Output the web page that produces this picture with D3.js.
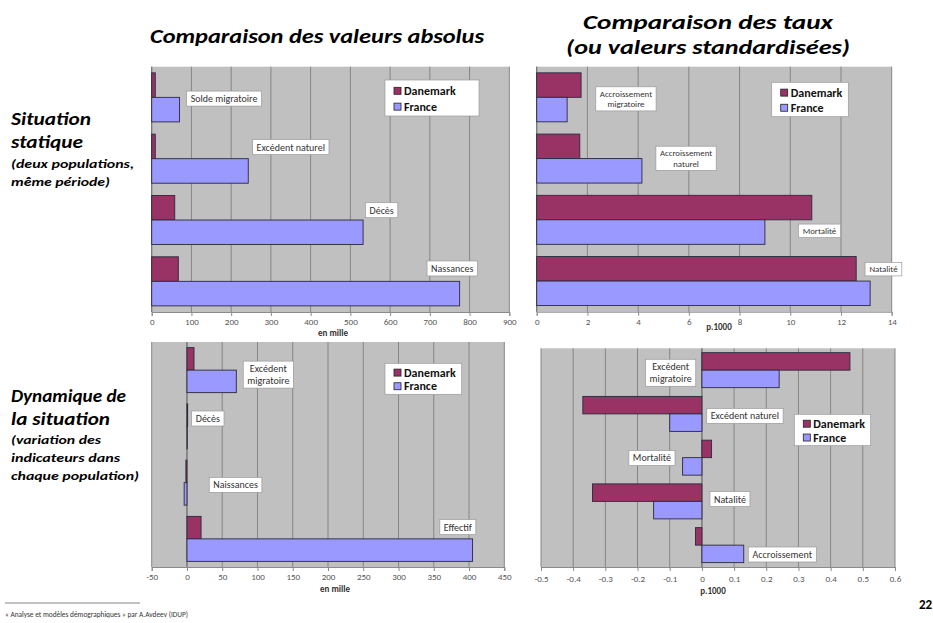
<!DOCTYPE html>
<html>
<head>
<meta charset="utf-8">
<script src="https://cdn.jsdelivr.net/npm/d3@7"></script>
<style>
  body { margin: 0; background: #fff; }
  svg { display: block; }
</style>
</head>
<body>
<svg id="chart"></svg>
<script>
const series = ["Danemark", "France"];
const seriesColors = ["#993366", "#9999FF"];

// Situation statique, valeurs absolues (en mille)
const absCats = ["Solde migratoire", "Excédent naturel", "Décès", "Nassances"];
const absDk = [9, 9, 58, 67];
const absFr = [70, 243, 532, 775];
const absTicks = [0, 100, 200, 300, 400, 500, 600, 700, 800, 900];

// Situation statique, taux (p.1000)
const tauxCats = [["Accroissement", "migratoire"], ["Accroissement", "naturel"], ["Mortalité"], ["Natalité"]];
const tauxDk = [1.75, 1.7, 10.85, 12.6];
const tauxFr = [1.2, 4.15, 9.0, 13.15];
const tauxTicks = [0, 2, 4, 6, 8, 10, 12, 14];

// Dynamique, valeurs absolues (en mille)
const dynAbsCats = [["Excédent", "migratoire"], ["Décès"], ["Naissances"], ["Effectif"]];
const dynAbsDk = [10, 1, -1.5, 20];
const dynAbsFr = [70, 0.5, -4, 405];
const dynAbsTicks = [-50, 0, 50, 100, 150, 200, 250, 300, 350, 400, 450];

// Dynamique, taux (p.1000)
const dynTauxCats = [["Excédent", "migratoire"], ["Excédent naturel"], ["Mortalité"], ["Natalité"], ["Accroissement"]];
const dynTauxDk = [0.46, -0.37, 0.03, -0.34, -0.02];
const dynTauxFr = [0.24, -0.10, -0.06, -0.15, 0.13];
const dynTauxTicks = [-0.5, -0.4, -0.3, -0.2, -0.1, 0, 0.1, 0.2, 0.3, 0.4, 0.5, 0.6];

// where the text boxes sit: [value at left edge, fraction of the band for the centre]
const absLabelAt = [[88, 0.52], [254, 0.31], [538, 0.34], [693, 0.29]];
const tauxLabelAt = [[2.33, 0.525], [4.7, 0.495], [10.32, 0.68], [12.95, 0.305]];
const dynAbsLabelAt = [[79.8, 0.58], [6.7, 0.36], [31.6, 0.54], [358.6, 0.29]];
const dynTauxLabelAt = [[-0.175, 0.56], [0.015, 0.545], [-0.227, 0.508], [0.025, 0.446], [0.144, 0.714]];

const W = 933, H = 623;
const FONT = "Carlito, 'Liberation Sans Narrow', 'Liberation Sans', Arial, sans-serif";

const svg = d3.select("#chart").attr("width", W).attr("height", H)
    .style("font-family", FONT);

function fmt(d) { return String(+d.toFixed(1)); }

function drawPanel(p) {
    const x = d3.scaleLinear().domain(p.domain).range([p.x0, p.x1]);
    const cats = p.cats.map(function (c, i) { return i; });
    const y = d3.scaleBand().domain(cats).range([p.y0, p.y1]);
    const ys = d3.scaleBand().domain(series).range([0, y.bandwidth()]).paddingOuter(0.25);

    const g = svg.append("g");

    g.append("rect")
        .attr("x", p.x0).attr("y", p.y0)
        .attr("width", p.x1 - p.x0).attr("height", p.y1 - p.y0)
        .attr("fill", "#C0C0C0");

    g.append("g").selectAll("line")
        .data(p.ticks)
        .enter().append("line")
        .attr("x1", function (d) { return x(d); })
        .attr("x2", function (d) { return x(d); })
        .attr("y1", p.y0).attr("y2", p.y1)
        .attr("stroke", "#858585")
        .attr("stroke-width", 1);

    // category axis at 0
    g.append("line")
        .attr("x1", x(0)).attr("x2", x(0))
        .attr("y1", p.y0).attr("y2", p.y1)
        .attr("stroke", "#707070");

    const rows = cats.map(function (i) {
        return [{ s: 0, v: p.dk[i], c: i }, { s: 1, v: p.fr[i], c: i }];
    }).flat();

    g.append("g").selectAll("rect")
        .data(rows)
        .enter().append("rect")
        .attr("x", function (d) { return x(Math.min(0, d.v)); })
        .attr("y", function (d) { return y(d.c) + ys(series[d.s]); })
        .attr("width", function (d) { return Math.abs(x(d.v) - x(0)); })
        .attr("height", ys.bandwidth())
        .attr("fill", function (d) { return seriesColors[d.s]; })
        .attr("stroke", "#2a2a3a")
        .attr("stroke-width", 0.9);

    const axis = g.append("g")
        .attr("transform", "translate(0," + p.y1 + ")")
        .call(d3.axisBottom(x).tickValues(p.ticks).tickFormat(fmt).tickSize(4).tickPadding(p.pad || 3));
    axis.select(".domain").attr("stroke", "#8a8a8a");
    axis.selectAll(".tick line").attr("stroke", "#8a8a8a");
    axis.selectAll(".tick text")
        .attr("fill", "#555")
        .style("font-size", "9px")
        .style("font-family", FONT);

    g.append("text")
        .attr("x", p.unitX).attr("y", p.unitY)
        .attr("text-anchor", "middle")
        .attr("font-size", 9).attr("font-weight", "bold")
        .attr("fill", "#333")
        .text(p.unit);

    // text boxes for the categories
    p.cats.forEach(function (lines, i) {
        if (!Array.isArray(lines)) lines = [lines];
        const at = p.labelAt[i];
        const lx = x(at[0]);
        const cy = y(i) + at[1] * y.bandwidth();
        const fs = p.labelSize;
        const lh = fs * 1.2;
        const box = g.append("g");
        const r = box.append("rect");
        const t = box.append("text")
            .attr("font-size", fs)
            .attr("fill", "#333")
            .attr("text-anchor", "middle");
        lines.forEach(function (ln, k) {
            t.append("tspan")
                .attr("x", 0)
                .attr("y", (k - (lines.length - 1) / 2) * lh)
                .attr("dy", "0.35em")
                .text(ln);
        });
        const bb = t.node().getBBox();
        const bw = bb.width + 8, bh = lines.length * lh + 3;
        r.attr("x", -bw / 2).attr("y", -bh / 2)
            .attr("width", bw).attr("height", bh)
            .attr("fill", "#fff")
            .attr("stroke", "#9a9a9a")
            .attr("stroke-width", 0.7);
        box.attr("transform", "translate(" + (lx + bw / 2) + "," + cy + ")");
    });

    // legend
    const lg = g.append("g").attr("transform", "translate(" + p.legX + "," + p.legY + ")");
    lg.append("rect")
        .attr("width", p.legW).attr("height", p.legH)
        .attr("fill", "#fff")
        .attr("stroke", "#9a9a9a")
        .attr("stroke-width", 0.7);
    series.forEach(function (s, k) {
        const cy = p.legH * (k === 0 ? 0.3 : 0.74);
        lg.append("rect")
            .attr("x", 9).attr("y", cy - 3.5)
            .attr("width", 7).attr("height", 7)
            .attr("fill", seriesColors[k])
            .attr("stroke", "#222")
            .attr("stroke-width", 0.8);
        lg.append("text")
            .attr("x", 19).attr("y", cy)
            .attr("dy", "0.35em")
            .attr("font-size", 12)
            .attr("font-weight", "bold")
            .attr("fill", "#111")
            .text(s);
    });
}

drawPanel({
    cats: absCats, dk: absDk, fr: absFr, domain: [0, 900], ticks: absTicks,
    x0: 151.7, x1: 509.3, y0: 66.7, y1: 312,
    unit: "en mille", unitX: 333, unitY: 336,
    labelAt: absLabelAt, labelSize: 10,
    legX: 385, legY: 80, legW: 94, legH: 36
});

drawPanel({
    cats: tauxCats, dk: tauxDk, fr: tauxFr, domain: [0, 14], ticks: tauxTicks,
    x0: 536.7, x1: 891.7, y0: 66.7, y1: 311.7,
    unit: "p.1000", unitX: 719, unitY: 330,
    labelAt: tauxLabelAt, labelSize: 8.8,
    legX: 771.7, legY: 82.3, legW: 76.6, legH: 34.4
});

drawPanel({
    cats: dynAbsCats, dk: dynAbsDk, fr: dynAbsFr, domain: [-50, 450], ticks: dynAbsTicks,
    x0: 151.7, x1: 504.3, y0: 342, y1: 567,
    unit: "en mille", unitX: 335, unitY: 592,
    labelAt: dynAbsLabelAt, labelSize: 10,
    legX: 385, legY: 363.3, legW: 76.7, legH: 31
});

drawPanel({
    cats: dynTauxCats, dk: dynTauxDk, fr: dynTauxFr, domain: [-0.5, 0.6], ticks: dynTauxTicks,
    x0: 541, x1: 895, y0: 348.3, y1: 567, pad: 5,
    unit: "p.1000", unitX: 713, unitY: 594,
    labelAt: dynTauxLabelAt, labelSize: 10,
    legX: 794.3, legY: 414.3, legW: 76.4, legH: 31.4
});

// titles
function bi(txt, xx, yy, size, len, anchor) {
    svg.append("text")
        .attr("x", xx).attr("y", yy)
        .attr("font-size", size)
        .attr("font-weight", "bold")
        .attr("font-style", "italic")
        .attr("fill", "#000")
        .attr("text-anchor", anchor || "start")
        .attr("textLength", len)
        .attr("lengthAdjust", "spacingAndGlyphs")
        .text(txt);
}

bi("Comparaison des valeurs absolus", 150, 43, 20, 334);
bi("Comparaison des taux", 708, 29, 20, 250, "middle");
bi("(ou valeurs standardisées)", 708, 54, 20, 284, "middle");

bi("Situation", 11, 125, 17.5, 80);
bi("statique", 11, 148, 17.5, 72);
bi("(deux populations,", 11, 168, 11.5, 123);
bi("même période)", 11, 186, 11.5, 99);

bi("Dynamique de", 11, 402, 17.5, 115);
bi("la situation", 11, 425, 17.5, 99);
bi("(variation des", 11, 444, 11.5, 90);
bi("indicateurs dans", 11, 462, 11.5, 109);
bi("chaque population)", 11, 480, 11.5, 128);

// footer
svg.append("line")
    .attr("x1", 5).attr("x2", 140)
    .attr("y1", 603).attr("y2", 603)
    .attr("stroke", "#333").attr("stroke-width", 0.6);
svg.append("text")
    .attr("x", 5).attr("y", 617)
    .attr("font-size", 7.5).attr("fill", "#333")
    .attr("textLength", 183).attr("lengthAdjust", "spacingAndGlyphs")
    .text("« Analyse et modèles démographiques » par A.Avdeev (IDUP)");
svg.append("text")
    .attr("x", 919).attr("y", 609)
    .attr("font-size", 13).attr("font-weight", "bold")
    .text("22");
</script>
</body>
</html>
